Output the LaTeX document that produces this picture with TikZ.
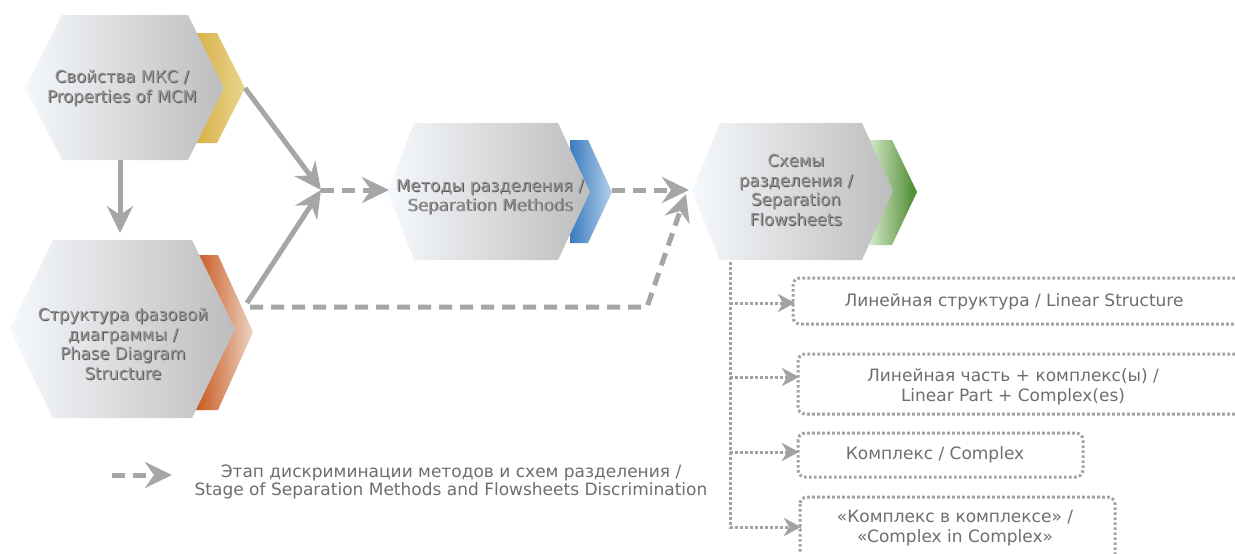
\documentclass[tikz,border=0pt]{standalone}
\usepackage{fontspec}
\setmainfont{DejaVu Sans}
\usetikzlibrary{arrows.meta}
\definecolor{arr}{HTML}{A6A6A6}
\definecolor{dotc}{HTML}{A2A2A2}
\definecolor{hexL}{HTML}{F5F8FC}
\definecolor{hexR}{HTML}{BDBDBD}
\definecolor{goldL}{HTML}{D6AC3E}
\definecolor{goldR}{HTML}{EAD590}
\definecolor{orL}{HTML}{C9561A}
\definecolor{orR}{HTML}{EBD3C4}
\definecolor{blL}{HTML}{3A7ABF}
\definecolor{blR}{HTML}{B4D0EA}
\definecolor{grL}{HTML}{D2E8C6}
\definecolor{grR}{HTML}{47872B}
\definecolor{txtg}{HTML}{959595}
\definecolor{txts}{HTML}{5A5A5A}
\definecolor{boxt}{HTML}{6E6E6E}
\begin{document}
\begin{tikzpicture}[x=1pt,y=-1pt,
  hexfill/.style={left color=hexL,right color=hexR},
  hextx/.style={font=\fontsize{16.5}{19.5}\selectfont,text=txtg,align=center,inner sep=0pt},
  hexsh/.style={hextx,text=txts},
  solidarr/.style={draw=arr,line width=5pt,-{Stealth[length=27pt,width=26pt,inset=9pt]}},
  dasharr/.style={solidarr,dash pattern=on 13pt off 8pt},
  dotline/.style={draw=dotc,line width=3pt,dash pattern=on 2.6pt off 2.4pt},
  dotarr/.style={dotline,-{Stealth[length=17pt,width=18pt,inset=5pt]}},
  dotbox/.style={draw=dotc,line width=3pt,dash pattern=on 2.6pt off 2.4pt,rounded corners=7pt},
  boxtx/.style={font=\fontsize{17}{20}\selectfont,text=boxt,align=center,inner sep=0pt},
  legtx/.style={boxtx,font=\fontsize{17}{18}\selectfont},
]
\clip (0,0) rectangle (1235,554);
\fill[white] (0,0) rectangle (1235,554);

% --- chevrons (behind) ---
\shade[left color=goldL,right color=goldR] (190,33) -- (217,33) -- (245,88) -- (217,143) -- (190,143) -- cycle;
\shade[left color=orL,right color=orR] (195,255) -- (218,255) -- (253,332) -- (218,410) -- (195,410) -- cycle;
\shade[left color=blL,right color=blR] (570,140) -- (588,140) -- (612,192) -- (588,243) -- (570,243) -- cycle;
\shade[left color=grL,right color=grR] (870,140) -- (892,140) -- (917,192) -- (892,245) -- (870,245) -- cycle;

% --- hexagons ---
\shade[hexfill] (25,88) -- (62,15) -- (188,15) -- (224,88) -- (188,160) -- (62,160) -- cycle;
\shade[hexfill] (10,329) -- (53,240) -- (192,240) -- (235,329) -- (192,418) -- (53,418) -- cycle;
\shade[hexfill] (388,192) -- (414,123) -- (558,123) -- (590,192) -- (558,260) -- (414,260) -- cycle;
\shade[hexfill] (692,191) -- (720,123) -- (862,123) -- (893,191) -- (862,260) -- (720,260) -- cycle;

% --- hexagon labels ---
\node[hexsh] (t1s) at (122.9,88.9) {Свойства МКС /\\Properties of MCM};
\node[hextx] (t1) at (122,88) {Свойства МКС /\\Properties of MCM};
\node[hexsh] (t2s) at (123.9,344.9) {Структура фазовой\\диаграммы /\\Phase Diagram\\Structure};
\node[hextx] (t2) at (123,344) {Структура фазовой\\диаграммы /\\Phase Diagram\\Structure};
\node[hexsh] (t3s) at (490.9,197.9) {Методы разделения /\\Separation Methods};
\node[hextx] (t3) at (490,197) {Методы разделения /\\Separation Methods};
\node[hexsh] (t4s) at (796.9,190.9) {Схемы\\разделения /\\Separation\\Flowsheets};
\node[hextx] (t4) at (796,190) {Схемы\\разделения /\\Separation\\Flowsheets};

% --- anchor coordinates ---
\coordinate (h1r) at (245,88);
\coordinate (h1b) at (120,160);
\coordinate (h2t) at (120,233);
\coordinate (h2r) at (247,303);
\coordinate (h2d) at (250,307);
\coordinate (bend) at (647,307);
\coordinate (junc) at (321,190);
\coordinate (h3l) at (389,190);
\coordinate (h3r) at (612,190);
\coordinate (h4l) at (689,190);
\coordinate (h4in) at (686,194);
\coordinate (h4b) at (730,262);

% --- main connectors ---
\draw[solidarr] (h1b) -- (h2t);
\draw[solidarr] (h1r) -- (junc);
\draw[solidarr] (h2r) -- (junc);
\draw[dasharr] (junc) -- (h3l);
\draw[dasharr] (h3r) -- (h4l);
\draw[dasharr] (h2d) -- (bend) -- (h4in);

% --- flowsheet boxes ---
\draw[dotbox] (1260,278) -- (793,278) -- (793,324) -- (1260,324);
\node[boxtx] (b1) at (1014,302) {Линейная структура / Linear Structure};
\draw[dotbox] (1260,354) -- (798,354) -- (798,414) -- (1260,414);
\node[boxtx] (b2) at (1013,387) {Линейная часть + комплекс(ы) /\\Linear Part + Complex(es)};
\draw[dotbox] (798,433) rectangle (1083,477);
\node[boxtx] (b3) at (935,455) {Комплекс / Complex};
\draw[dotbox] (800,497) rectangle (1115,580);
\node[boxtx] (b4) at (955,528) {«Комплекс в комплексе» /\\«Complex in Complex»};

\coordinate (e1) at (795,303);
\coordinate (e2) at (799,377);
\coordinate (e3) at (799,452);
\coordinate (e4) at (801,527);
\coordinate (s1) at (730,303);
\coordinate (s2) at (730,377);
\coordinate (s3) at (730,452);
\draw[dotline] (h4b) |- (e4);
\draw[dotarr] (h4b |- e4) -- (e4);
\draw[dotarr] (s1) -- (e1);
\draw[dotarr] (s2) -- (e2);
\draw[dotarr] (s3) -- (e3);

% --- legend ---
\coordinate (l1) at (112,475);
\coordinate (l2) at (172,475);
\draw[dasharr] (l1) -- (l2);
\node[legtx] (leg) at (451,482) {Этап дискриминации методов и схем разделения /\\Stage of Separation Methods and Flowsheets Discrimination};
\end{tikzpicture}
\end{document}
